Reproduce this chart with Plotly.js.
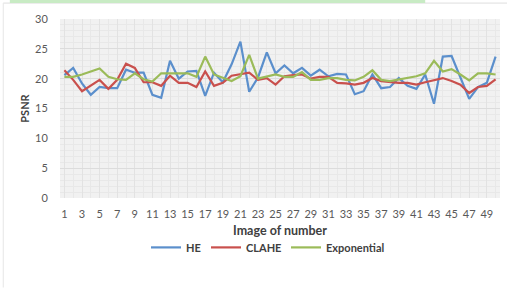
<!DOCTYPE html>
<html>
<head>
<meta charset="utf-8">
<script src="https://cdn.plot.ly/plotly-3.0.1.min.js"></script>
<style>
html,body{margin:0;padding:0;background:#fff;}
#chart{width:507px;height:288px;}
</style>
</head>
<body>
<div id="chart"></div>
<script>
var imageNumbers = [];
for (var n = 1; n <= 50; n++) imageNumbers.push(n);

var heValues = [20.6, 21.8, 19.2, 17.3, 18.6, 18.4, 18.4, 21.5, 21.0, 21.0,
                17.3, 16.8, 23.0, 20.0, 21.2, 21.3, 17.1, 21.0, 19.4, 22.4,
                26.2, 17.8, 20.2, 24.4, 20.9, 22.2, 20.9, 21.8, 20.5, 21.5,
                20.4, 20.8, 20.7, 17.4, 17.9, 20.7, 18.4, 18.6, 20.1, 18.8,
                18.3, 20.7, 15.8, 23.7, 23.8, 20.1, 16.6, 18.6, 19.3, 23.7];

var claheValues = [21.4, 19.8, 17.9, 18.8, 19.8, 18.3, 19.8, 22.5, 21.8, 19.4,
                   19.4, 18.8, 20.5, 19.3, 19.3, 18.6, 21.2, 18.8, 19.3, 20.5,
                   20.8, 21.0, 19.8, 20.1, 19.0, 20.4, 20.6, 20.7, 20.0, 20.3,
                   20.3, 19.3, 19.2, 19.0, 19.3, 20.1, 19.6, 19.4, 19.3, 19.3,
                   19.0, 19.4, 19.7, 20.1, 19.6, 19.0, 17.6, 18.6, 18.8, 19.9];

var expValues = [20.3, 20.3, 20.7, 21.2, 21.7, 20.3, 19.9, 19.8, 20.9, 19.9,
                 19.5, 20.9, 20.9, 20.9, 20.9, 20.3, 23.7, 20.7, 20.1, 19.6,
                 20.4, 24.0, 20.0, 20.3, 20.7, 20.3, 20.3, 21.1, 19.8, 19.8,
                 20.1, 20.1, 19.8, 19.7, 20.3, 21.4, 19.8, 19.6, 19.9, 20.1,
                 20.4, 20.9, 23.0, 21.2, 21.6, 20.7, 19.7, 20.9, 20.9, 20.7];

var seriesNames = ['HE', 'CLAHE', 'Exponential'];
var yTickVals = [0, 5, 10, 15, 20, 25, 30];

var tickFont = {family: 'Lato, "Open Sans", sans-serif', size: 11, color: '#595959'};
var titleFont = {family: 'Lato, "Open Sans", sans-serif', size: 12.5, color: '#404040', weight: 700};
var yTitleFont = {family: 'Lato, "Open Sans", sans-serif', size: 11, color: '#404040', weight: 700};
var legendFont = {family: 'Lato, "Open Sans", sans-serif', size: 11, color: '#404040', weight: 700};

function legendAt(px) {
  return {orientation: 'h', x: (px - 60) / 440, xanchor: 'left', y: -0.276, yanchor: 'middle',
          font: legendFont, itemwidth: 30, bgcolor: 'rgba(0,0,0,0)', borderwidth: 0};
}

var traces = [
  {x: imageNumbers, y: heValues, name: seriesNames[0], type: 'scatter', mode: 'lines',
   line: {color: '#5b8fcc', width: 2.2}, legend: 'legend'},
  {x: imageNumbers, y: claheValues, name: seriesNames[1], type: 'scatter', mode: 'lines',
   line: {color: '#c9504d', width: 2.2}, legend: 'legend2'},
  {x: imageNumbers, y: expValues, name: seriesNames[2], type: 'scatter', mode: 'lines',
   line: {color: '#9bbb59', width: 2.2}, legend: 'legend3'}
];

var layout = {
  width: 507, height: 288,
  margin: {l: 60, r: 7, t: 19, b: 90},
  paper_bgcolor: '#ffffff',
  plot_bgcolor: '#f1f1f1',
  showlegend: true,
  legend: legendAt(146),
  legend2: legendAt(206),
  legend3: legendAt(286),
  xaxis: {
    range: [0.5, 50.5], tickmode: 'linear', tick0: 1, dtick: 2,
    showgrid: true, gridcolor: '#e2e2e2', gridwidth: 1,
    minor: {dtick: 1, showgrid: true, gridcolor: '#e8e8e8', gridwidth: 1},
    zeroline: false, showline: false,
    ticks: 'outside', ticklen: 6, tickcolor: 'rgba(0,0,0,0)',
    tickfont: tickFont, fixedrange: true,
    title: {text: 'Image of number', font: titleFont, standoff: 7}
  },
  yaxis: {
    range: [0, 30], tickvals: yTickVals,
    showgrid: true, gridcolor: '#dcdcdc', gridwidth: 1,
    minor: {dtick: 1, showgrid: true, gridcolor: '#e8e8e8', gridwidth: 1},
    zeroline: false, showline: false,
    ticks: 'outside', ticklen: 9, tickcolor: 'rgba(0,0,0,0)',
    tickfont: tickFont, fixedrange: true,
    title: {text: 'PSNR', font: yTitleFont, standoff: 3}
  },
  shapes: [
    {type: 'line', xref: 'paper', yref: 'paper', x0: -0.129, x1: 1.016, y0: 1.089, y1: 1.089,
     line: {color: '#dedede', width: 1}, layer: 'below'},
    {type: 'line', xref: 'paper', yref: 'paper', x0: -0.129, x1: -0.129, y0: -0.5, y1: 1.089,
     line: {color: '#e6e6e6', width: 1}, layer: 'below'},
    {type: 'rect', xref: 'paper', yref: 'paper', x0: -0.114, x1: 0.83, y0: 1.089, y1: 1.11,
     line: {width: 0}, fillcolor: '#c8ebc4', layer: 'above'}
  ]
};

Plotly.newPlot('chart', traces, layout, {displayModeBar: false, staticPlot: true});
</script>
</body>
</html>
